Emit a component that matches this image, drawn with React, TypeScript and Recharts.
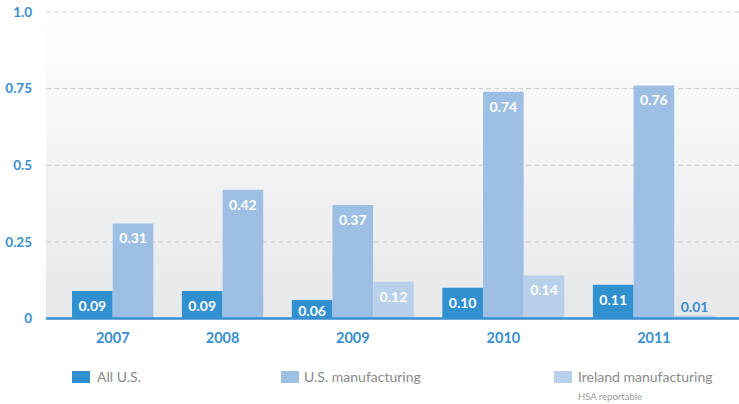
import React from 'react';
import { BarChart, Bar, XAxis, YAxis, CartesianGrid, ReferenceLine, LabelList, Cell } from 'recharts';

const YEARS = ['2007', '2008', '2009', '2010', '2011'];
const ALL_US: (number | null)[] = [0.09, 0.09, 0.06, 0.1, 0.11];
const US_MANUFACTURING: (number | null)[] = [0.31, 0.42, 0.37, 0.74, 0.76];
const IRELAND_MANUFACTURING: (number | null)[] = [null, null, 0.12, 0.14, 0.01];
const SERIES_NAMES = ['All U.S.', 'U.S. manufacturing', 'Ireland manufacturing'];
const Y_TICKS = [0, 0.25, 0.5, 0.75, 1.0];

const COLORS = ['#3090d0', '#9dbfe3', '#b9d0ea'];
const FONT = 'Lato, "Noto Sans", sans-serif';
const BLUE_TEXT = '#3a8ed0';

const W = 739;
const H = 404;
const Y_AXIS_W = 46;
const GROUP_GAP = 0.7; // gap between year groups, in bar widths
const PAD_LEFT = 0.64;
const PAD_RIGHT = 0.59;

type Row = { pos: number; value: number; series: number; year: string };
const rows: Row[] = [];
const groupCenters: number[] = [];
let cursor = 0;
YEARS.forEach((year, i) => {
  const vals = [ALL_US[i], US_MANUFACTURING[i], IRELAND_MANUFACTURING[i]];
  const start = cursor;
  vals.forEach((v, s) => {
    if (v !== null && v !== undefined) {
      rows.push({ pos: cursor + 0.5, value: v, series: s, year });
      cursor += 1;
    }
  });
  groupCenters.push((start + cursor) / 2);
  cursor += GROUP_GAP;
});
const lastEnd = cursor - GROUP_GAP;
const X_DOMAIN: [number, number] = [-PAD_LEFT, lastEnd + PAD_RIGHT];
const PLOT_W = W - Y_AXIS_W;
const BAR_SIZE = PLOT_W / (X_DOMAIN[1] - X_DOMAIN[0]) - 0.1;

const yearOfTick = (v: number) => {
  let best = 0;
  groupCenters.forEach((c, i) => {
    if (Math.abs(c - v) < Math.abs(groupCenters[best] - v)) best = i;
  });
  return YEARS[best];
};

const renderLabel = (props: any) => {
  const { x, y, width, height, value } = props;
  if (value === null || value === undefined) return null;
  const cx = Number(x) + Number(width) / 2;
  const txt = Number(value).toFixed(2);
  if (Number(height) < 12) {
    return (
      <text x={cx} y={Number(y) - 8} dy="0.35em" textAnchor="middle" fill={BLUE_TEXT}
        fontFamily={FONT} fontWeight={700} fontSize={14}>{txt}</text>
    );
  }
  const cy = Math.min(Number(y) + 15, Number(y) + Number(height) - 7);
  return (
    <text x={cx} y={cy} dy="0.35em" textAnchor="middle" fill="#ffffff"
      fontFamily={FONT} fontWeight={700} fontSize={14}>{txt}</text>
  );
};

const LegendItem = ({ left, textLeft, color, label, sub }: { left: number; textLeft: number; color: string; label: string; sub?: string }) => (
  <div style={{ position: 'absolute', left, top: 371 }}>
    <div style={{ position: 'absolute', left: 0, top: 0, width: 18, height: 12, background: color }} />
    <div style={{ position: 'absolute', left: textLeft, top: -3, fontFamily: FONT,
      fontSize: 14, color: '#8a8a8a', whiteSpace: 'nowrap', lineHeight: '18px' }}>{label}</div>
    {sub ? (
      <div style={{ position: 'absolute', left: textLeft, top: 20, fontFamily: FONT, fontSize: 9.5,
        color: '#9a9a9a', whiteSpace: 'nowrap', lineHeight: '12px' }}>{sub}</div>
    ) : null}
  </div>
);

export default function App() {
  return (
    <div style={{ position: 'absolute', left: 0, top: 0, width: W, height: H, background: '#ffffff' }}>
      <BarChart width={W} height={H} data={rows} margin={{ top: 12, right: 0, bottom: 55.5, left: 0 }}>
        <defs>
          <linearGradient id="bgGrad" x1="0" y1="0" x2="0" y2="1">
            <stop offset="0%" stopColor="#ffffff" />
            <stop offset="100%" stopColor="#e6e7e9" />
          </linearGradient>
        </defs>
        <CartesianGrid vertical={false} stroke="#c8c8c8" strokeDasharray="5 3" fill="url(#bgGrad)" />
        <XAxis type="number" dataKey="pos" domain={X_DOMAIN} ticks={groupCenters} interval={0}
          tickFormatter={yearOfTick} axisLine={false} tickLine={false} tickSize={0} tickMargin={14} height={30}
          tick={{ fill: BLUE_TEXT, fontFamily: FONT, fontWeight: 700, fontSize: 14.5 }} allowDataOverflow />
        <YAxis type="number" domain={[0, 1]} ticks={Y_TICKS} interval={0} width={Y_AXIS_W}
          tickFormatter={(v: number) => (v === 1 ? '1.0' : String(v))}
          axisLine={false} tickLine={false} tickSize={0} tickMargin={14}
          tick={{ fill: BLUE_TEXT, fontFamily: FONT, fontWeight: 700, fontSize: 13.5 }} />
        <Bar dataKey="value" barSize={BAR_SIZE} isAnimationActive={false}>
          {rows.map((r, i) => (
            <Cell key={i} fill={COLORS[r.series]} />
          ))}
          <LabelList dataKey="value" content={renderLabel} />
        </Bar>
        <ReferenceLine y={0} stroke="#3a8ed0" strokeWidth={2.5} />
      </BarChart>
      <LegendItem left={72} textLeft={25} color={COLORS[0]} label={SERIES_NAMES[0]} />
      <LegendItem left={281} textLeft={23} color={COLORS[1]} label={SERIES_NAMES[1]} />
      <LegendItem left={554} textLeft={24} color={COLORS[2]} label={SERIES_NAMES[2]} sub="HSA reportable" />
    </div>
  );
}
